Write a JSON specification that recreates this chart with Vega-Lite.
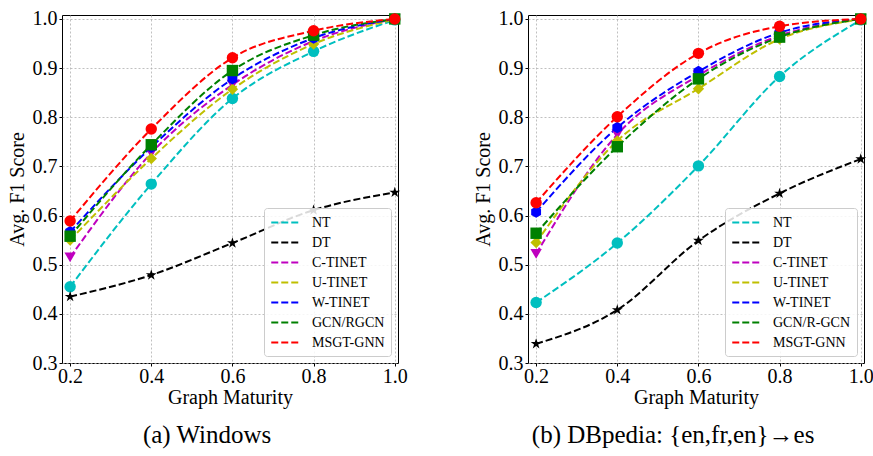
{
  "$schema": "https://vega.github.io/schema/vega-lite/v6.json",
  "padding": {"left": 6, "top": 8, "right": 0, "bottom": 2},
  "background": "white",
  "config": {
    "font": "Liberation Serif",
    "view": {"stroke": "black", "strokeWidth": 1},
    "axis": {
      "domain": false,
      "grid": true,
      "gridColor": "#b0b0b0",
      "gridDash": [2, 2],
      "gridWidth": 0.8,
      "ticks": true,
      "tickColor": "black",
      "tickSize": 3,
      "labelColor": "black",
      "labelFontSize": 20,
      "labelFont": "Liberation Serif",
      "labelPadding": 2,
      "titleFont": "Liberation Serif",
      "titleFontSize": 20,
      "titleFontWeight": "normal",
      "titleColor": "black"
    },
    "legend": {
      "orient": "bottom-right",
      "offset": 7,
      "strokeColor": "#cccccc",
      "fillColor": "rgba(255,255,255,0.85)",
      "cornerRadius": 3,
      "padding": 6,
      "labelFontSize": 14,
      "labelFont": "Liberation Serif",
      "labelColor": "black",
      "symbolType": "M-1,0L3,0",
      "symbolSize": 210,
      "symbolStrokeWidth": 2,
      "symbolDash": [7, 3],
      "rowPadding": 4,
      "labelOffset": 25
    }
  },
  "datasets": {
    "win": [
      {"series": "NT", "x": 0.2, "y": 0.455}, {"series": "NT", "x": 0.4, "y": 0.664}, {"series": "NT", "x": 0.6, "y": 0.838}, {"series": "NT", "x": 0.8, "y": 0.934}, {"series": "NT", "x": 1.0, "y": 0.998},
      {"series": "DT", "x": 0.2, "y": 0.435}, {"series": "DT", "x": 0.4, "y": 0.479}, {"series": "DT", "x": 0.6, "y": 0.544}, {"series": "DT", "x": 0.8, "y": 0.611}, {"series": "DT", "x": 1.0, "y": 0.647},
      {"series": "C-TINET", "x": 0.2, "y": 0.515}, {"series": "C-TINET", "x": 0.4, "y": 0.727}, {"series": "C-TINET", "x": 0.6, "y": 0.866}, {"series": "C-TINET", "x": 0.8, "y": 0.955}, {"series": "C-TINET", "x": 1.0, "y": 1.0},
      {"series": "U-TINET", "x": 0.2, "y": 0.55}, {"series": "U-TINET", "x": 0.4, "y": 0.716}, {"series": "U-TINET", "x": 0.6, "y": 0.857}, {"series": "U-TINET", "x": 0.8, "y": 0.949}, {"series": "U-TINET", "x": 1.0, "y": 0.999},
      {"series": "W-TINET", "x": 0.2, "y": 0.567}, {"series": "W-TINET", "x": 0.4, "y": 0.739}, {"series": "W-TINET", "x": 0.6, "y": 0.878}, {"series": "W-TINET", "x": 0.8, "y": 0.961}, {"series": "W-TINET", "x": 1.0, "y": 1.0},
      {"series": "GCN/RGCN", "x": 0.2, "y": 0.558}, {"series": "GCN/RGCN", "x": 0.4, "y": 0.744}, {"series": "GCN/RGCN", "x": 0.6, "y": 0.895}, {"series": "GCN/RGCN", "x": 0.8, "y": 0.967}, {"series": "GCN/RGCN", "x": 1.0, "y": 1.0},
      {"series": "MSGT-GNN", "x": 0.2, "y": 0.589}, {"series": "MSGT-GNN", "x": 0.4, "y": 0.776}, {"series": "MSGT-GNN", "x": 0.6, "y": 0.921}, {"series": "MSGT-GNN", "x": 0.8, "y": 0.976}, {"series": "MSGT-GNN", "x": 1.0, "y": 1.0}
    ],
    "dbp": [
      {"series": "NT", "x": 0.2, "y": 0.423}, {"series": "NT", "x": 0.4, "y": 0.544}, {"series": "NT", "x": 0.6, "y": 0.701}, {"series": "NT", "x": 0.8, "y": 0.883}, {"series": "NT", "x": 1.0, "y": 0.998},
      {"series": "DT", "x": 0.2, "y": 0.339}, {"series": "DT", "x": 0.4, "y": 0.408}, {"series": "DT", "x": 0.6, "y": 0.549}, {"series": "DT", "x": 0.8, "y": 0.645}, {"series": "DT", "x": 1.0, "y": 0.715},
      {"series": "C-TINET", "x": 0.2, "y": 0.522}, {"series": "C-TINET", "x": 0.4, "y": 0.765}, {"series": "C-TINET", "x": 0.6, "y": 0.885}, {"series": "C-TINET", "x": 0.8, "y": 0.966}, {"series": "C-TINET", "x": 1.0, "y": 1.0},
      {"series": "U-TINET", "x": 0.2, "y": 0.545}, {"series": "U-TINET", "x": 0.4, "y": 0.752}, {"series": "U-TINET", "x": 0.6, "y": 0.858}, {"series": "U-TINET", "x": 0.8, "y": 0.959}, {"series": "U-TINET", "x": 1.0, "y": 0.999},
      {"series": "W-TINET", "x": 0.2, "y": 0.607}, {"series": "W-TINET", "x": 0.4, "y": 0.779}, {"series": "W-TINET", "x": 0.6, "y": 0.893}, {"series": "W-TINET", "x": 0.8, "y": 0.972}, {"series": "W-TINET", "x": 1.0, "y": 1.0},
      {"series": "GCN/R-GCN", "x": 0.2, "y": 0.564}, {"series": "GCN/R-GCN", "x": 0.4, "y": 0.74}, {"series": "GCN/R-GCN", "x": 0.6, "y": 0.878}, {"series": "GCN/R-GCN", "x": 0.8, "y": 0.963}, {"series": "GCN/R-GCN", "x": 1.0, "y": 1.0},
      {"series": "MSGT-GNN", "x": 0.2, "y": 0.626}, {"series": "MSGT-GNN", "x": 0.4, "y": 0.801}, {"series": "MSGT-GNN", "x": 0.6, "y": 0.93}, {"series": "MSGT-GNN", "x": 0.8, "y": 0.985}, {"series": "MSGT-GNN", "x": 1.0, "y": 1.0}
    ]
  },
  "spacing": 64,
  "resolve": {"scale": {"color": "independent", "fill": "independent", "shape": "independent", "x": "independent", "y": "independent"}, "legend": {"color": "independent"}},
  "hconcat": [
    {
      "width": 336,
      "height": 348,
      "data": {"name": "win"},
      "title": {"text": "(a) Windows", "orient": "bottom", "frame": "bounds", "anchor": "middle", "offset": 16, "fontSize": 25, "font": "Liberation Serif", "fontWeight": "normal", "color": "black"},
      "encoding": {
        "x": {"field": "x", "type": "quantitative", "title": "Graph Maturity", "scale": {"domain": [0.18, 1.008], "nice": false, "zero": false}, "axis": {"values": [0.2, 0.4, 0.6, 0.8, 1.0], "format": ".1f", "labelFlush": false, "labelPadding": 0, "titlePadding": 1}},
        "y": {"field": "y", "type": "quantitative", "title": "Avg. F1 Score", "scale": {"domain": [0.3, 1.008], "nice": false, "zero": false}, "axis": {"values": [0.3, 0.4, 0.5, 0.6, 0.7, 0.8, 0.9, 1.0], "format": ".1f", "labelFlush": false, "titlePadding": 5}}
      },
      "layer": [
        {"mark": {"type": "line", "strokeDash": [7, 3], "strokeWidth": 2, "interpolate": "monotone"},
         "encoding": {
           "color": {"field": "series", "type": "nominal",
             "scale": {"domain": ["NT", "DT", "C-TINET", "U-TINET", "W-TINET", "GCN/RGCN", "MSGT-GNN"], "range": ["#00BFBF", "#000000", "#BF00BF", "#BFBF00", "#0000FF", "#008000", "#FF0000"]},
             "legend": {"title": null, "symbolType": "M-1,0L3,0", "symbolDash": [7, 3], "symbolStrokeWidth": 2,
               "encode": {"symbols": {"update": {"shape": {"value": "M-1,0L3,0"}, "fill": {"value": "transparent"}, "strokeDash": {"value": [7, 3]}, "strokeWidth": {"value": 2}, "size": {"value": 210}}}}}}
         }},
        {"mark": {"type": "point", "filled": true, "size": 130, "opacity": 1},
         "encoding": {
           "fill": {"field": "series", "type": "nominal", "legend": null,
             "scale": {"domain": ["NT", "DT", "C-TINET", "U-TINET", "W-TINET", "GCN/RGCN", "MSGT-GNN", "_"], "range": ["#00BFBF", "#000000", "#BF00BF", "#BFBF00", "#0000FF", "#008000", "#FF0000", "#FFFFFF"]}},
           "shape": {"field": "series", "type": "nominal", "legend": null,
             "scale": {"domain": ["NT", "DT", "C-TINET", "U-TINET", "W-TINET", "GCN/RGCN", "MSGT-GNN", "_"],
               "range": ["circle", "M0,-1L0.2245,-0.309L0.951,-0.309L0.363,0.118L0.588,0.809L0,0.382L-0.588,0.809L-0.363,0.118L-0.951,-0.309L-0.2245,-0.309Z", "triangle-down", "diamond", "M0,-1L0.866,-0.5L0.866,0.5L0,1L-0.866,0.5L-0.866,-0.5Z", "square", "circle", "circle"]}}
         }}
      ]
    },
    {
      "width": 336,
      "height": 348,
      "data": {"name": "dbp"},
      "title": {"text": "(b) DBpedia: {en,fr,en}→es", "orient": "bottom", "frame": "bounds", "anchor": "middle", "offset": 16, "fontSize": 25, "font": "Liberation Serif", "fontWeight": "normal", "color": "black"},
      "encoding": {
        "x": {"field": "x", "type": "quantitative", "title": "Graph Maturity", "scale": {"domain": [0.18, 1.008], "nice": false, "zero": false}, "axis": {"values": [0.2, 0.4, 0.6, 0.8, 1.0], "format": ".1f", "labelFlush": false, "labelPadding": 0, "titlePadding": 1}},
        "y": {"field": "y", "type": "quantitative", "title": "Avg. F1 Score", "scale": {"domain": [0.3, 1.008], "nice": false, "zero": false}, "axis": {"values": [0.3, 0.4, 0.5, 0.6, 0.7, 0.8, 0.9, 1.0], "format": ".1f", "labelFlush": false, "titlePadding": 5}}
      },
      "layer": [
        {"mark": {"type": "line", "strokeDash": [7, 3], "strokeWidth": 2, "interpolate": "monotone"},
         "encoding": {
           "color": {"field": "series", "type": "nominal",
             "scale": {"domain": ["NT", "DT", "C-TINET", "U-TINET", "W-TINET", "GCN/R-GCN", "MSGT-GNN"], "range": ["#00BFBF", "#000000", "#BF00BF", "#BFBF00", "#0000FF", "#008000", "#FF0000"]},
             "legend": {"title": null, "symbolType": "M-1,0L3,0", "symbolDash": [7, 3], "symbolStrokeWidth": 2,
               "encode": {"symbols": {"update": {"shape": {"value": "M-1,0L3,0"}, "fill": {"value": "transparent"}, "strokeDash": {"value": [7, 3]}, "strokeWidth": {"value": 2}, "size": {"value": 210}}}}}}
         }},
        {"mark": {"type": "point", "filled": true, "size": 130, "opacity": 1},
         "encoding": {
           "fill": {"field": "series", "type": "nominal", "legend": null,
             "scale": {"domain": ["NT", "DT", "C-TINET", "U-TINET", "W-TINET", "GCN/R-GCN", "MSGT-GNN", "_"], "range": ["#00BFBF", "#000000", "#BF00BF", "#BFBF00", "#0000FF", "#008000", "#FF0000", "#FFFFFF"]}},
           "shape": {"field": "series", "type": "nominal", "legend": null,
             "scale": {"domain": ["NT", "DT", "C-TINET", "U-TINET", "W-TINET", "GCN/R-GCN", "MSGT-GNN", "_"],
               "range": ["circle", "M0,-1L0.2245,-0.309L0.951,-0.309L0.363,0.118L0.588,0.809L0,0.382L-0.588,0.809L-0.363,0.118L-0.951,-0.309L-0.2245,-0.309Z", "triangle-down", "diamond", "M0,-1L0.866,-0.5L0.866,0.5L0,1L-0.866,0.5L-0.866,-0.5Z", "square", "circle", "circle"]}}
         }}
      ]
    }
  ]
}
